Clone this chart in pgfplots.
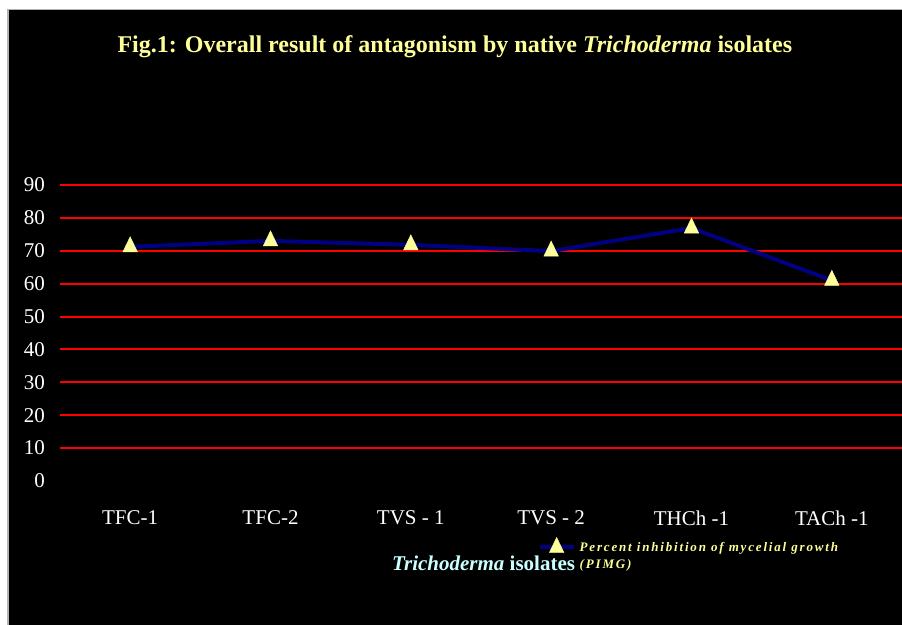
\documentclass[border=0pt]{standalone}
\usepackage{fontspec}
\setmainfont{Liberation Serif}
\newfontfamily\legfont[LetterSpace=14]{Liberation Serif}
\usepackage{pgfplots}
\pgfplotsset{compat=1.18}
\definecolor{titleyellow}{HTML}{FFFF99}
\definecolor{labelcyan}{HTML}{CCFFFF}
\definecolor{navyline}{HTML}{000080}
\definecolor{markyellow}{HTML}{FFFF99}
\definecolor{gridred}{HTML}{FF0000}
\begin{document}
\begin{tikzpicture}
\useasboundingbox (0,0) rectangle (451pt,312.5pt);
\fill[white] (0,0) rectangle (451pt,312.5pt);
\fill[black] (4pt,0) rectangle (451pt,307.5pt);
\draw[gray!60, line width=0.5pt] (4pt,0) -- (4pt,307.5pt) -- (451pt,307.5pt);
\begin{axis}[
  at={(30pt,72pt)}, anchor=south west,
  scale only axis, width=421pt, height=148pt,
  xmin=-0.5, xmax=5.5, ymin=0, ymax=90,
  xtick={0,...,5},
  xticklabels={TFC-1,TFC-2,TVS - 1,TVS - 2,THCh -1,TACh -1},
  ytick={10,20,...,90},
  extra y ticks={0}, extra y tick style={grid=none},
  ymajorgrids, grid style={gridred, line width=1pt},
  axis line style={draw=none}, major tick style={draw=none},
  tick label style={white, font=\fontsize{10.5}{12}\selectfont},
  /pgf/number format/assume math mode=true,
  xticklabel style={yshift=-11.5pt},
  yticklabel style={xshift=-4pt},
  title={Fig.1: Overall result of antagonism by native \textit{Trichoderma} isolates},
  title style={at={(axis description cs:0.469,1)}, anchor=center, yshift=63pt, text=titleyellow, font=\bfseries\fontsize{12}{14}\selectfont},
  xlabel={\textit{Trichoderma} isolates},
  xlabel style={at={(axis description cs:0.503,0)}, anchor=center, yshift=-41pt, text=labelcyan, font=\bfseries\fontsize{10.5}{13}\selectfont},
  legend style={at={(axis description cs:0.562,0)}, anchor=north west, yshift=-26pt, draw=none, fill=none, text=titleyellow, font=\legfont\bfseries\itshape\fontsize{6.5}{8.5}\selectfont, cells={align=left}, /tikz/every even column/.append style={column sep=0pt}},
  legend image post style={yshift=4.5pt},
  legend style={/tikz/inner xsep=2pt},
]
\addplot[color=navyline, line width=2pt, mark=triangle*, mark size=4.2pt, mark options={fill=markyellow, draw=markyellow, line width=0.2pt, yscale=1.2}] coordinates {(0,71.2) (1,73.0) (2,71.8) (3,69.9) (4,76.9) (5,61.0)};
\addlegendentry{Percent inhibition of mycelial growth\\(PIMG)}
\end{axis}
\end{tikzpicture}
\end{document}
